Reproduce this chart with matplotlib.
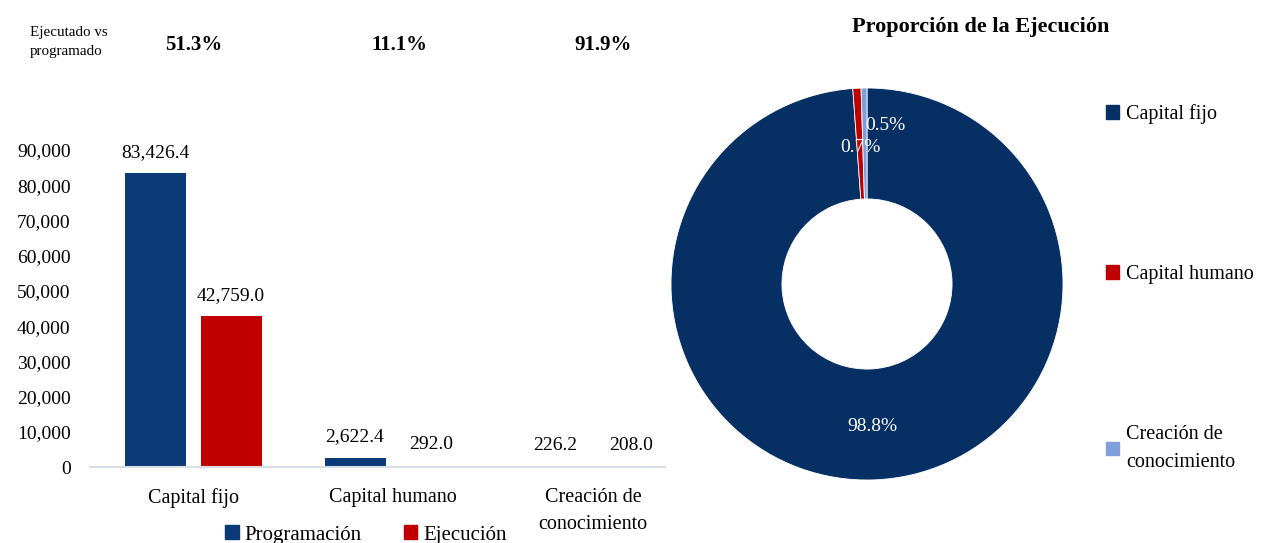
import matplotlib
matplotlib.use("Agg")
import matplotlib.pyplot as plt
from matplotlib.patches import Patch
import numpy as np

plt.rcParams['font.family'] = ['Liberation Serif', 'DejaVu Serif']

# data
categorias = ["Capital fijo", "Capital humano", "Creación de\nconocimiento"]
programacion = [83426.4, 2622.4, 226.2]
ejecucion = [42759.0, 292.0, 208.0]
avance = ["51.3%", "11.1%", "91.9%"]
pie_labels = ["Capital fijo", "Capital humano", "Creación de\nconocimiento"]

navy = "#0a3a78"
pie_navy = "#062f64"
red = "#c00000"
light = "#7f9fda"

fig = plt.figure(figsize=(12.62, 5.43), dpi=100)
W, H = 1262, 543

# ---- bar chart ----
ax = fig.add_axes([90 / W, 76 / H, 575 / W, 317 / H])
x = np.arange(len(categorias))
w = 0.305
b1 = ax.bar(x - 0.19, programacion, w, color=navy)
b2 = ax.bar(x + 0.19, ejecucion, w, color=red)
for bars in (b1, b2):
    for r in bars:
        v = r.get_height()
        ax.annotate(f"{v:,.1f}", (r.get_x() + r.get_width() / 2, v),
                    xytext=(0, 9), textcoords="offset points",
                    ha="center", va="bottom", fontsize=14, annotation_clip=False)
ax.set_xlim(-0.515, 2.36)
ax.set_ylim(0, 90000)
ax.set_yticks(np.arange(0, 90001, 10000))
ax.set_yticklabels([f"{v:,}" for v in range(0, 90001, 10000)], fontsize=14)
ax.set_xticks(x)
ax.set_xticklabels(categorias, fontsize=14.5, linespacing=1.6)
ax.tick_params(axis="x", length=0, pad=15)
ax.tick_params(axis="y", length=0, pad=14)
for s in ["top", "right", "left"]:
    ax.spines[s].set_visible(False)
ax.spines["bottom"].set_color("#d9dde6")
ax.spines["bottom"].set_linewidth(1.5)

fig.legend(handles=[Patch(color=navy, label="Programación"),
                    Patch(color=red, label="Ejecución")],
           loc="center", bbox_to_anchor=(366 / W, 1 - 535 / H), ncol=2,
           frameon=False, fontsize=15, handlelength=0.65, handleheight=0.65,
           handletextpad=0.3, columnspacing=2.0, borderpad=0)

# top row
fig.text(30 / W, 1 - 42 / H, "Ejecutado vs\nprogramado", fontsize=10.8,
         va="center", ha="left", linespacing=1.55)
for cx, t in zip([194, 399, 603], avance):
    fig.text(cx / W, 1 - 45 / H, t, fontsize=15, fontweight="bold",
             ha="center", va="center")

# ---- donut ----
r = 196
pax = fig.add_axes([(867 - r) / W, (H - 284 - r) / H, 2 * r / W, 2 * r / H])
wedges, texts, autotexts = pax.pie(
    ejecucion, colors=[pie_navy, red, light], startangle=90, counterclock=False,
    autopct="%1.1f%%", pctdistance=0.73,
    wedgeprops=dict(width=0.566, edgecolor="white", linewidth=0.6),
    textprops=dict(color="white", fontsize=14))
pax.set_xlim(-1, 1)
pax.set_ylim(-1, 1)
pax.set_aspect("equal")
autotexts[1].set_position((-7 / r, 137 / r))
autotexts[2].set_position((18 / r, 158 / r))
fig.text(981 / W, 1 - 27 / H, "Proporción de la Ejecución", fontsize=16,
         fontweight="bold", ha="center", va="center")

leg = fig.legend(handles=[Patch(color=c, label=l) for c, l in
                          zip([pie_navy, red, light], pie_labels)],
                 loc="upper left", bbox_to_anchor=(1106 / W, 1 - 104 / H),
                 frameon=False, fontsize=14.5, handlelength=0.65,
                 handleheight=0.65, handletextpad=0.35, labelspacing=7.0,
                 borderpad=0, borderaxespad=0)
for t in leg.get_texts():
    t.set_linespacing(1.65)

fig.savefig("out.png", dpi=100)
